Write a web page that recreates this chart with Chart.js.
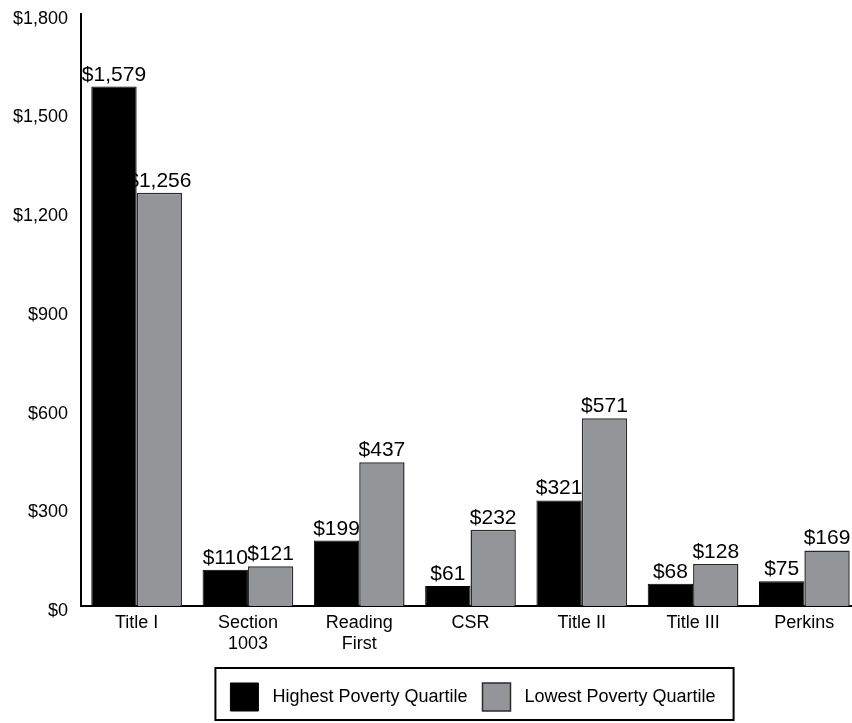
<!DOCTYPE html>
<html>
<head>
<meta charset="utf-8">
<script src="https://cdn.jsdelivr.net/npm/chart.js@4"></script>
<style>
  html, body { margin: 0; padding: 0; background: #fff; }
  #wrap { position: relative; width: 852px; height: 723px; overflow: hidden; }
  /* original is slightly cropped on the right and top */
  #chart { position: absolute; left: 0; top: -10px; }
</style>
</head>
<body>
<div id="wrap"><canvas id="chart" width="860" height="733"></canvas></div>
<script>
const programs = [['Title I'], ['Section', '1003'], ['Reading', 'First'], ['CSR'], ['Title II'], ['Title III'], ['Perkins']];
const highestPoverty = [1579, 110, 199, 61, 321, 68, 75];
const lowestPoverty = [1256, 121, 437, 232, 571, 128, 169];
const yTicks = [0, 300, 600, 900, 1200, 1500, 1800];

const FONT = 'Arial, "Liberation Sans", sans-serif';
const fmt = v => '$' + v.toLocaleString('en-US');

// value labels above each bar
const valueLabels = {
    id: 'valueLabels',
    afterDatasetsDraw(chart) {
        const ctx = chart.ctx;
        ctx.save();
        ctx.font = '21px ' + FONT;
        ctx.fillStyle = '#000';
        ctx.textAlign = 'center';
        ctx.textBaseline = 'alphabetic';
        chart.data.datasets.forEach((ds, i) => {
            chart.getDatasetMeta(i).data.forEach((bar, j) => {
                ctx.fillText(fmt(ds.data[j]), bar.x, bar.y - 6);
            });
        });
        ctx.restore();
    }
};

// legend sits a bit right of centre in the original; move it before hit boxes are built
const legendShift = {
    id: 'legendShift',
    afterLayout(chart) {
        const lg = chart.legend;
        if (!lg) return;
        lg.left += 43;
        lg.right += 43;
    }
};

// box around the legend items
const legendBorder = {
    id: 'legendBorder',
    afterDraw(chart) {
        const lg = chart.legend;
        if (!lg || !lg.legendHitBoxes.length) return;
        const boxes = lg.legendHitBoxes;
        const first = boxes[0];
        const last = boxes[boxes.length - 1];
        const left = first.left - 15;
        const right = last.left + last.width + 18;
        const top = first.top - 15;
        const ctx = chart.ctx;
        ctx.save();
        ctx.strokeStyle = '#000';
        ctx.lineWidth = 2;
        ctx.strokeRect(left, top, right - left, 52);
        ctx.restore();
    }
};

new Chart(document.getElementById('chart'), {
    type: 'bar',
    data: {
        labels: programs,
        datasets: [{
            label: ' Highest Poverty Quartile',
            data: highestPoverty,
            backgroundColor: '#000000',
            borderColor: '#000000',
            borderWidth: 1
        }, {
            label: ' Lowest Poverty Quartile',
            data: lowestPoverty,
            backgroundColor: '#939598',
            borderColor: '#2b2b2b',
            borderWidth: 1.5
        }]
    },
    options: {
        responsive: false,
        animation: false,
        datasets: {
            bar: { categoryPercentage: 0.815, barPercentage: 1.0 }
        },
        layout: { padding: { top: 0, right: 0, left: 0, bottom: 2 } },
        plugins: {
            legend: {
                display: true,
                position: 'bottom',
                labels: {
                    boxWidth: 28,
                    boxHeight: 28,
                    padding: 15,
                    color: '#000',
                    font: { family: FONT, size: 18 }
                }
            },
            tooltip: { enabled: false }
        },
        scales: {
            x: {
                grid: { display: false, drawTicks: false },
                border: { color: '#000', width: 2 },
                afterFit: s => { s.height = 62; },
                ticks: {
                    color: '#000',
                    padding: 6,
                    maxRotation: 0,
                    font: { family: FONT, size: 18 }
                }
            },
            y: {
                min: 0,
                max: 1800,
                afterBuildTicks: axis => { axis.ticks = yTicks.map(v => ({ value: v })); },
                afterFit: s => { s.width = 81; },
                grid: { display: false, drawTicks: false },
                border: { color: '#000', width: 2 },
                ticks: {
                    color: '#000',
                    padding: 13,
                    labelOffset: 5,
                    callback: v => fmt(v),
                    font: { family: FONT, size: 18 }
                }
            }
        }
    },
    plugins: [legendShift, valueLabels, legendBorder]
});
</script>
</body>
</html>
